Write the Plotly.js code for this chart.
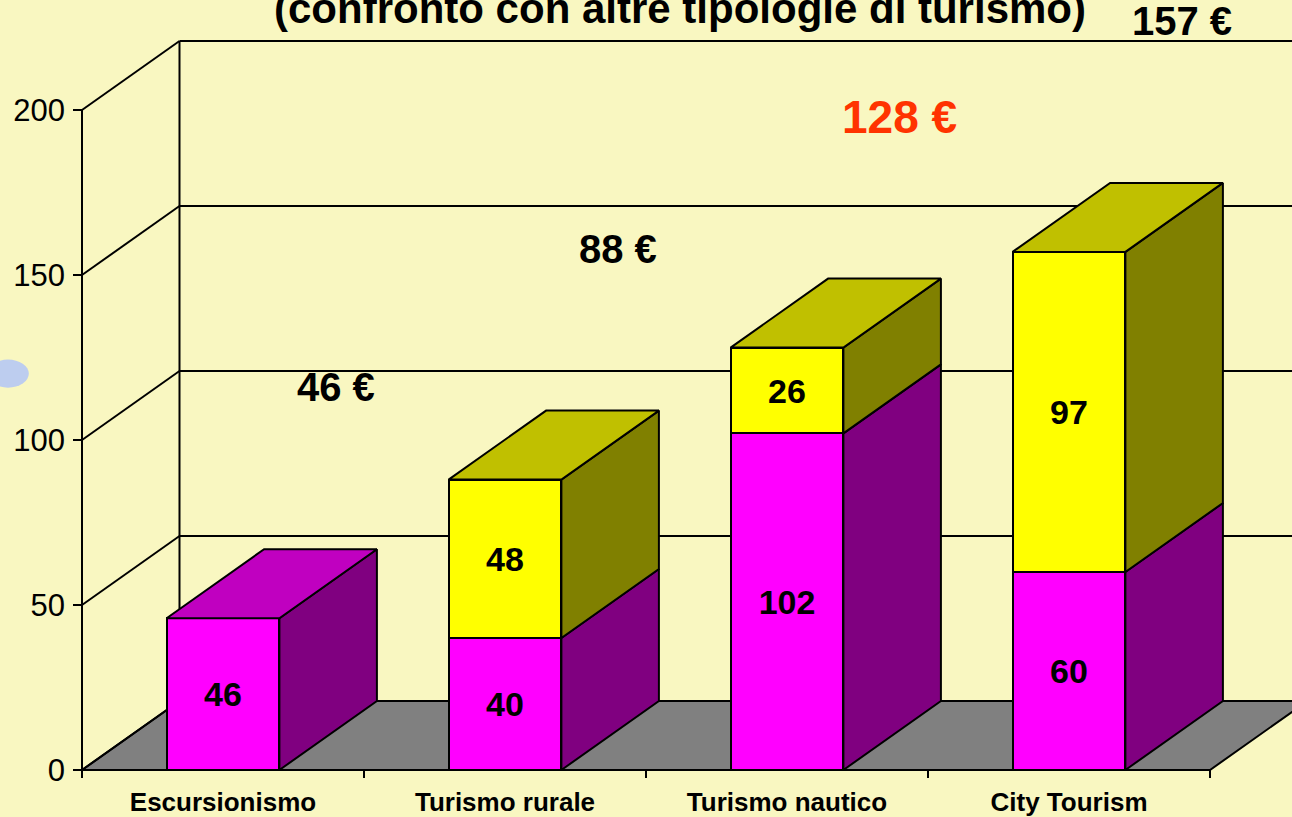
<!DOCTYPE html>
<html><head><meta charset="utf-8">
<script src="https://cdn.plot.ly/plotly-3.0.1.min.js"></script>
<style>html,body{margin:0;padding:0;background:#F9F7C1;} #chart{width:1292px;height:817px;}</style>
</head><body><div id="chart"></div>
<script>
// ---- data ----
const categories = ['Escursionismo', 'Turismo rurale', 'Turismo nautico', 'City Tourism'];
const pinkValues = [46, 40, 102, 60];
const yellowValues = [null, 48, 26, 97];
const yTickValues = [0, 50, 100, 150, 200];
const chartTitle = '(confronto con altre tipologie di turismo)';
const highlightIndex = 2;

// ---- styling / geometry ----
const FONT = 'Liberation Sans, Arial, sans-serif';
const BG = '#F9F7C1';
const PINK = '#FF00FF', PINK_TOP = '#C000C0', PINK_SIDE = '#800080';
const YEL = '#FFFF00', YEL_TOP = '#C0C000', YEL_SIDE = '#808000';
const FLOOR = '#808080';
const PX_X = 282, PX_Y = 3.3;           // pixels per unit (for fixed-size ornaments)
const BAR_W = 0.4;
const DX = 97.5 / PX_X, DY = 69 / PX_Y; // 3D depth offset
const n = categories.length;
const XL = -0.5, XR = n - 0.5;
const YMAX = yTickValues[yTickValues.length - 1];

const totals = pinkValues.map((p, i) => p + (yellowValues[i] || 0));

// ---- frame (walls, floor, ticks) ----
const L = {color: '#000', width: 2};
const shapes = [];
shapes.push({type: 'path', layer: 'below', xref: 'x', yref: 'y',
  path: `M${XL},0 L${XR},0 L${XR + DX},${DY} L${XL + DX},${DY} Z`,
  fillcolor: FLOOR, line: L});
yTickValues.forEach(v => {
  shapes.push({type: 'line', layer: 'below', xref: 'x', yref: 'y', x0: XL + DX, x1: XR + DX + 1, y0: v + DY, y1: v + DY, line: L});
  shapes.push({type: 'line', layer: 'below', xref: 'x', yref: 'y', x0: XL, x1: XL + DX, y0: v, y1: v + DY, line: L});
  shapes.push({type: 'line', layer: 'below', xref: 'x', yref: 'y', x0: XL - 9 / PX_X, x1: XL, y0: v, y1: v, line: L});
});
shapes.push({type: 'line', layer: 'below', xref: 'x', yref: 'y', x0: XL + DX, x1: XL + DX, y0: DY, y1: YMAX + DY, line: L});
shapes.push({type: 'line', layer: 'below', xref: 'x', yref: 'y', x0: XL, x1: XL, y0: 0, y1: YMAX, line: L});
for (let b = 0; b <= n; b++) {
  shapes.push({type: 'line', layer: 'below', xref: 'x', yref: 'y', x0: XL + b, x1: XL + b, y0: 0, y1: -8 / PX_Y, line: L});
}
// slide bullet blob at the left edge
shapes.push({type: 'circle', layer: 'below', xref: 'paper', yref: 'paper', x0: -0.066, x1: -0.032, y0: 0.503, y1: 0.539,
  fillcolor: '#BDCDEF', line: {width: 0}});

// ---- 3D faces ----
function sidePoly(i, b, t, xs, ys) {
  const xr = i + BAR_W / 2;
  xs.push(xr, xr + DX, xr + DX, xr, xr, null);
  ys.push(b, b + DY, t + DY, t, b, null);
}
function topPoly(i, t, xs, ys) {
  const xl = i - BAR_W / 2, xr = i + BAR_W / 2;
  xs.push(xl, xr, xr + DX, xl + DX, xl, null);
  ys.push(t, t, t + DY, t + DY, t, null);
}
const ps = {x: [], y: []}, pt = {x: [], y: []}, ys_ = {x: [], y: []}, yt = {x: [], y: []};
categories.forEach((c, i) => {
  const p = pinkValues[i], yv = yellowValues[i];
  sidePoly(i, 0, p, ps.x, ps.y);
  if (yv) {
    sidePoly(i, p, p + yv, ys_.x, ys_.y);
    topPoly(i, p + yv, yt.x, yt.y);
  } else {
    topPoly(i, p, pt.x, pt.y);
  }
});
function face(obj, color) {
  return {type: 'scatter', mode: 'lines', x: obj.x, y: obj.y, fill: 'toself', fillcolor: color,
    line: {color: '#000', width: 2}, hoverinfo: 'skip', showlegend: false, connectgaps: false};
}

const barFont = {family: FONT, size: 34, color: '#000', weight: 'bold'};
const traces = [
  {type: 'bar', x: categories.map((c, i) => i), y: pinkValues, width: BAR_W,
   marker: {color: PINK, line: {color: '#000', width: 2}},
   text: pinkValues.map(String), textposition: 'inside', insidetextanchor: 'middle',
   textangle: 0, constraintext: 'none', textfont: barFont, showlegend: false, hoverinfo: 'skip'},
  {type: 'bar', x: categories.map((c, i) => i), y: yellowValues, width: BAR_W,
   marker: {color: YEL, line: {color: '#000', width: 2}},
   text: yellowValues.map(v => v == null ? '' : String(v)), textposition: 'inside', insidetextanchor: 'middle',
   textangle: 0, constraintext: 'none', textfont: barFont, showlegend: false, hoverinfo: 'skip'},
  face(ps, PINK_SIDE), face(pt, PINK_TOP), face(ys_, YEL_SIDE), face(yt, YEL_TOP)
];

const annotations = totals.map((t, i) => ({
  xref: 'x', yref: 'y', x: i + 0.40, y: t + 70, showarrow: false,
  text: t + ' €',
  font: {family: FONT, size: i === highlightIndex ? 46 : 40, weight: 'bold',
         color: i === highlightIndex ? '#FF3300' : '#000'}
}));

const layout = {
  width: 1292, height: 817, autosize: false,
  margin: {l: 68, r: 0, t: 0, b: 37, pad: 0},
  paper_bgcolor: BG, plot_bgcolor: BG,
  barmode: 'stack', showlegend: false,
  font: {family: FONT, color: '#000'},
  title: {text: chartTitle, font: {family: FONT, size: 42, weight: 'bold', color: '#000'},
          x: 0.5, xref: 'paper', y: 0.9895, yref: 'container', yanchor: 'middle'},
  xaxis: {range: [XL - 14 / PX_X, XL + 1210 / PX_X], tickvals: categories.map((c, i) => i), ticktext: categories,
          showgrid: false, zeroline: false, showline: false, ticks: '', ticklabelstandoff: 4,
          tickfont: {family: FONT, size: 26, weight: 'bold', color: '#000'}, fixedrange: true},
  yaxis: {range: [-10 / PX_Y, 770 / PX_Y], tickvals: yTickValues, ticktext: yTickValues.map(String),
          showgrid: false, zeroline: false, showline: false, ticks: '', ticklabelstandoff: 2,
          tickfont: {family: FONT, size: 31, color: '#000'}, fixedrange: true},
  shapes: shapes,
  annotations: annotations
};
Plotly.newPlot('chart', traces, layout, {displayModeBar: false, staticPlot: true});
</script>
</body></html>
